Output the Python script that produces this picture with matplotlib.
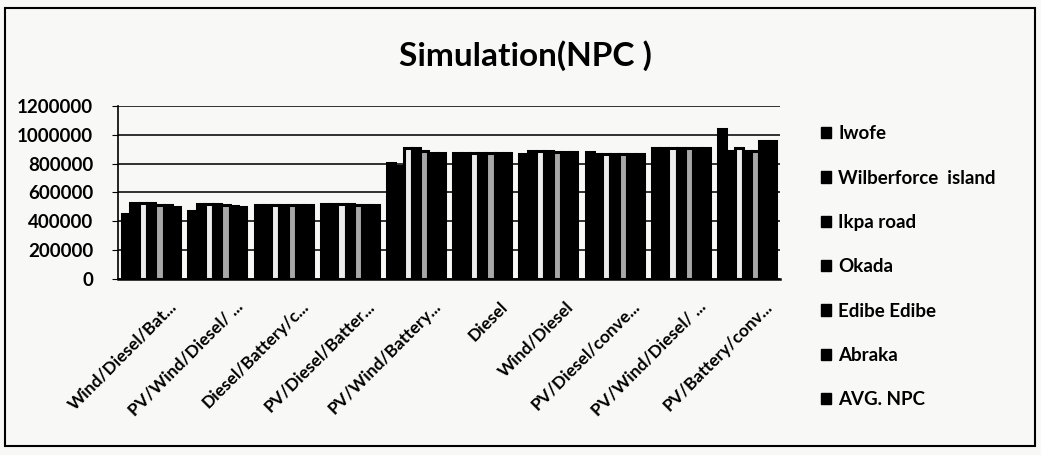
import numpy as np
import matplotlib
matplotlib.use("Agg")
import matplotlib.pyplot as plt
from matplotlib.patches import Rectangle, Patch
from matplotlib.transforms import ScaledTranslation

plt.rcParams['font.family'] = ['Lato', 'DejaVu Sans']

systems = ["Wind/Diesel/Bat...", "PV/Wind/Diesel/ ...", "Diesel/Battery/c...",
           "PV/Diesel/Batter...", "PV/Wind/Battery...", "Diesel", "Wind/Diesel",
           "PV/Diesel/conve...", "PV/Wind/Diesel/ ...", "PV/Battery/conv..."]
sites = ["Iwofe", "Wilberforce  island", "Ikpa road", "Okada", "Edibe Edibe", "Abraka", "AVG. NPC"]

iwofe       = [450000, 472000, 515000, 518000, 805000, 873000, 868000, 884000, 907000, 1040000]
wilberforce = [525000, 520000, 515000, 518000, 785000, 873000, 891000, 866000, 907000, 891000]
ikpa        = [530000, 520000, 515000, 518000, 912000, 873000, 888000, 866000, 907000, 907000]
okada       = [525000, 518000, 515000, 518000, 912000, 873000, 886000, 866000, 907000, 891000]
edibe       = [515000, 512000, 515000, 516000, 890000, 873000, 884000, 866000, 907000, 891000]
abraka      = [510000, 505000, 515000, 516000, 875000, 873000, 884000, 866000, 907000, 954000]
avg_npc     = [500000, 500000, 515000, 516000, 875000, 873000, 884000, 866000, 907000, 954000]

series = [iwofe, wilberforce, ikpa, okada, edibe, abraka, avg_npc]
# photocopied look: mostly black, a couple of washed-out bars
colors = ["black", "black", "#ececec", "black", "#a8a8a8", "black", "black"]

fig = plt.figure(figsize=(10.41, 4.55), dpi=100, facecolor="#f8f8f6")
ax = fig.add_axes([0.1134, 0.387, 0.636, 0.380])
ax.set_facecolor("#f8f8f6")

x = np.arange(len(systems))
w = 0.125
for i, vals in enumerate(series):
    ax.bar(x + (i - 3) * w, vals, width=w, color=colors[i], edgecolor="black",
           linewidth=2.2, zorder=3)

ax.set_ylim(0, 1200000)
ax.set_yticks(np.arange(0, 1200001, 200000))
ax.set_yticklabels([str(v) for v in range(0, 1200001, 200000)], fontsize=13.5,
                   fontweight="bold")
ax.set_xlim(-0.5, len(systems) - 0.5)
ax.grid(axis="y", color="#222222", linewidth=1.3, zorder=0)
for s in ["top", "right"]:
    ax.spines[s].set_visible(False)
ax.spines["left"].set_linewidth(1.2)
ax.spines["bottom"].set_linewidth(1.8)
ax.tick_params(axis="y", length=4, pad=14)
ax.tick_params(axis="x", length=0, pad=14)

ax.set_xticks(x)
ax.set_xticklabels(systems, rotation=45, ha="right", rotation_mode="anchor",
                   fontsize=12.5, fontweight="bold")
offset = ScaledTranslation(17 / 100, 0, fig.dpi_scale_trans)
for lbl in ax.get_xticklabels():
    lbl.set_transform(lbl.get_transform() + offset)

fig.text(0.505, 0.878, "Simulation(NPC )", ha="center", va="center",
         fontsize=24, fontweight="bold")

handles = [Patch(facecolor="black", edgecolor="black") for _ in sites]
fig.legend(handles, sites, loc="upper left", bbox_to_anchor=(0.772, 0.762),
           frameon=False, prop={"weight": "bold", "size": 13.5},
           handlelength=0.55, handleheight=0.55, handletextpad=0.4,
           labelspacing=1.46)

fig.patches.append(Rectangle((5 / 1041, 9 / 455), 1030 / 1041, 438 / 455,
                             transform=fig.transFigure, fill=False,
                             edgecolor="black", linewidth=1.5))

fig.savefig("out.png", dpi=100, facecolor=fig.get_facecolor())
